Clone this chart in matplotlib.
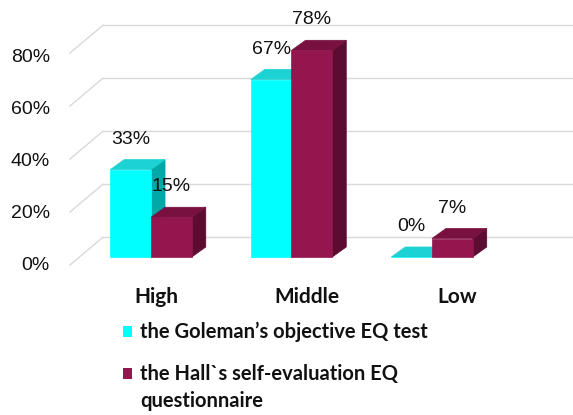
import numpy as np
import matplotlib
matplotlib.use("Agg")
import matplotlib.pyplot as plt
from matplotlib.patches import Polygon

# data
categories = ["High", "Middle", "Low"]
goleman = [33, 67, 0]
hall = [15, 78, 7]
series_names = ["the Goleman\u2019s objective EQ test",
                "the Hall`s self-evaluation EQ\nquestionnaire"]
yticks = [0, 20, 40, 60, 80]

# colours: front, top, side
cyan = ("#00FFFF", "#1DD2D2", "#00A8A8")
maroon = ("#93164F", "#781040", "#5C0C31")

# pseudo-3d geometry (x in category units, y in percent)
bar_w = 0.29
bdx, bdy = 0.10, 3.8          # bar depth offset
floor_front, floor_back = -3.0, 7.5
wall_x0, wall_x1 = -0.577, -0.342

fig = plt.figure(figsize=(5.73, 4.15), dpi=100)
ax = fig.add_axes([0, 0, 1, 1])
ax.set_xlim(-1.075, 3.004)
ax.set_ylim(-59.6, 97.0)
ax.axis("off")

# back wall gridlines + floor diagonals
for v in yticks:
    yb = floor_back + v
    yf = floor_front + v
    ax.plot([wall_x0, wall_x1], [yf, yb], color="#D9D9D9", lw=1.0, zorder=1)
    ax.plot([wall_x1, 3.1], [yb, yb], color="#D9D9D9", lw=1.0, zorder=1)
    ax.text(-0.72, -3 + 0.98 * v, f"{v}%", ha="right", va="center",
            fontsize=14, family="Liberation Sans", color="#111111")


def bar3d(x0, h, cols):
    x1 = x0 + bar_w
    front = [(x0, 0), (x1, 0), (x1, h), (x0, h)]
    top = [(x0, h), (x1, h), (x1 + bdx, h + bdy), (x0 + bdx, h + bdy)]
    side = [(x1, 0), (x1 + bdx, bdy), (x1 + bdx, h + bdy), (x1, h)]
    for pts, c in ((side, cols[2]), (top, cols[1]), (front, cols[0])):
        ax.add_patch(Polygon(pts, closed=True, facecolor=c, edgecolor=c,
                             lw=0.5, zorder=3))
    ax.text(x0 + bar_w / 2, h + 11.5, f"{h}%", ha="center", va="center",
            fontsize=14, family="Liberation Sans", color="#111111", zorder=5)


for i, cat in enumerate(categories):
    bar3d(i - bar_w, goleman[i], cyan)
    bar3d(i, hall[i], maroon)
    ax.text(i * 1.07 + 0.04, -15.1, cat, ha="center", va="center",
            fontsize=15, family="Lato", fontweight="bold", color="#111111")

# legend
W, H = 573, 415
for k, (name, cols) in enumerate(zip(series_names, [cyan, maroon])):
    yc = 333 + 42 * k
    fig.patches.append(plt.Rectangle((123 / W, 1 - (yc + 4) / H), 9 / W, 11 / H,
                                     transform=fig.transFigure,
                                     facecolor=cols[0], edgecolor="none"))
    fig.text(140 / W, 1 - (yc - 11) / H, name, ha="left", va="top",
             fontsize=14.5, family="Lato", fontweight="bold", color="#111111",
             linespacing=1.45)

fig.savefig("out.png", dpi=100)
